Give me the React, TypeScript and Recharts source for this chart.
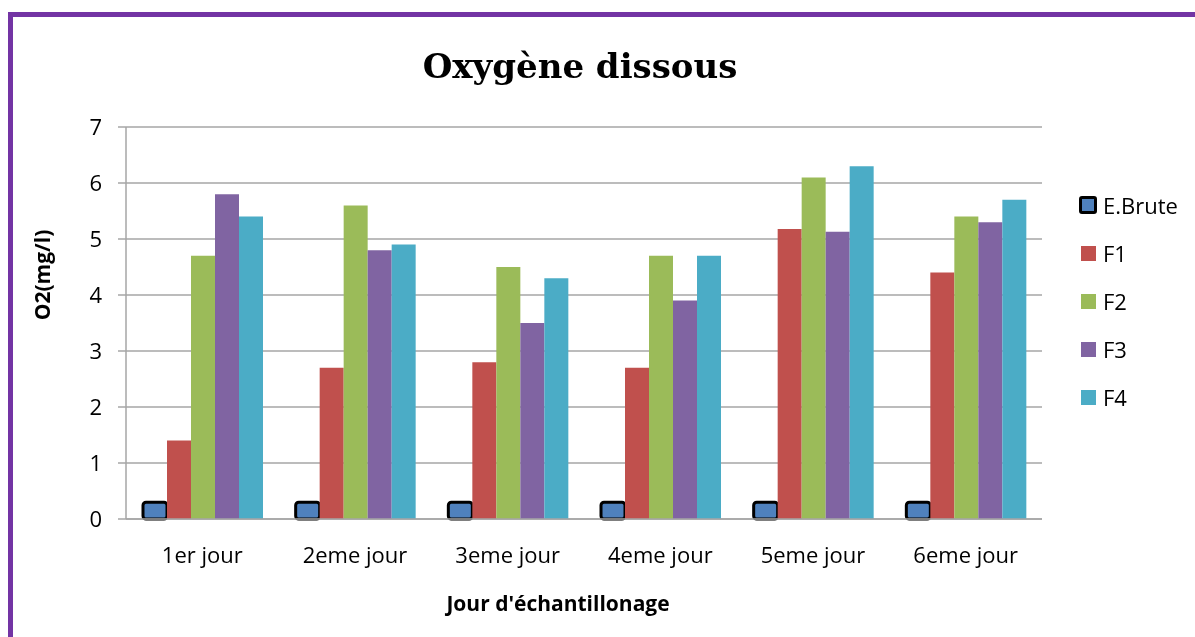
import { BarChart, Bar, XAxis, YAxis, CartesianGrid, Legend, Label } from "recharts";

// jours d'échantillonnage
const JOURS = ["1er jour", "2eme jour", "3eme jour", "4eme jour", "5eme jour", "6eme jour"];

// O2 dissous (mg/l)
const E_BRUTE = [0.3, 0.3, 0.3, 0.3, 0.3, 0.3];
const F1 = [1.4, 2.7, 2.8, 2.7, 5.18, 4.4];
const F2 = [4.7, 5.6, 4.5, 4.7, 6.1, 5.4];
const F3 = [5.8, 4.8, 3.5, 3.9, 5.13, 5.3];
const F4 = [5.4, 4.9, 4.3, 4.7, 6.3, 5.7];

const Y_TICKS = [0, 1, 2, 3, 4, 5, 6, 7];

const SERIES = [
  { key: "brute", name: "E.Brute", values: E_BRUTE, fill: "#4F81BD", outlined: true },
  { key: "f1", name: "F1", values: F1, fill: "#C0504D", outlined: false },
  { key: "f2", name: "F2", values: F2, fill: "#9BBB59", outlined: false },
  { key: "f3", name: "F3", values: F3, fill: "#8064A2", outlined: false },
  { key: "f4", name: "F4", values: F4, fill: "#4BACC6", outlined: false },
];

const data = JOURS.map((jour, i) => {
  const row: Record<string, string | number> = { jour };
  SERIES.forEach((s) => {
    row[s.key] = s.values[i];
  });
  return row;
});

const FONT = "'Open Sans', sans-serif";
const GRID = "#A6A6A6";

const renderLegend = () => (
  <div style={{ fontFamily: FONT, fontSize: 22, color: "#000" }}>
    {SERIES.map((s) => (
      <div key={s.key} style={{ display: "flex", alignItems: "center", height: 48 }}>
        <span
          style={{
            display: "inline-block",
            boxSizing: "border-box",
            width: s.outlined ? 18 : 15,
            height: s.outlined ? 18 : 15,
            marginLeft: s.outlined ? 0 : 2,
            marginRight: s.outlined ? 6 : 7,
            background: s.fill,
            border: s.outlined ? "3px solid #000" : "none",
            borderRadius: s.outlined ? 3 : 0,
          }}
        />
        <span>{s.name}</span>
      </div>
    ))}
  </div>
);

export default function App() {
  return (
    <>
      <div
        style={{
          position: "fixed",
          left: 8,
          top: 12,
          width: 1300,
          height: 700,
          border: "5px solid #7334A4",
        }}
      />
      <div style={{ position: "fixed", left: 0, top: 0, width: 1195, height: 637 }}>
        <div
          style={{
            position: "absolute",
            left: 0,
            width: 1160,
            top: 44,
            textAlign: "center",
            fontFamily: "'DejaVu Serif', serif",
            fontWeight: "bold",
            fontSize: 34,
            lineHeight: "44px",
            color: "#000",
          }}
        >
          Oxygène dissous
        </div>
        <BarChart
          width={1195}
          height={637}
          data={data}
          margin={{ top: 127, right: 153, bottom: 58, left: 0 }}
          barGap={0}
          barCategoryGap={17}
        >
          <CartesianGrid horizontal vertical={false} stroke={GRID} strokeWidth={1.5} />
          <XAxis
            dataKey="jour"
            height={60}
            axisLine={{ stroke: GRID, strokeWidth: 1.5 }}
            tickLine={false}
            tickSize={0}
            tickMargin={28}
            tick={{ fill: "#000", fontSize: 22, fontFamily: FONT }}
          >
            <Label
              content={() => (
                <text
                  x={558}
                  y={611}
                  textAnchor="middle"
                  fontFamily={FONT}
                  fontWeight="bold"
                  fontSize={21}
                  fill="#000"
                >
                  Jour d'échantillonage
                </text>
              )}
            />
          </XAxis>
          <YAxis
            width={126}
            domain={[0, 7]}
            ticks={Y_TICKS}
            interval={0}
            axisLine={{ stroke: GRID, strokeWidth: 1.5 }}
            tickLine={{ stroke: GRID, strokeWidth: 1.5 }}
            tickSize={8}
            tickMargin={16}
            tick={{ fill: "#000", fontSize: 22, fontFamily: FONT }}
          >
            <Label
              content={() => (
                <text
                  x={42}
                  y={275}
                  transform="rotate(-90 42 275)"
                  textAnchor="middle"
                  dominantBaseline="central"
                  fontFamily={FONT}
                  fontWeight="bold"
                  fontSize={21}
                  fill="#000"
                >
                  O2(mg/l)
                </text>
              )}
            />
          </YAxis>
          <Legend
            layout="vertical"
            align="center"
            verticalAlign="middle"
            content={renderLegend}
            wrapperStyle={{ left: 1079, top: 181, width: 116 }}
          />
          {SERIES.map((s) => (
            <Bar
              key={s.key}
              dataKey={s.key}
              name={s.name}
              fill={s.fill}
              stroke={s.outlined ? "#000" : "none"}
              strokeWidth={s.outlined ? 3 : 0}
              radius={s.outlined ? 3 : 0}
              isAnimationActive={false}
            />
          ))}
        </BarChart>
      </div>
    </>
  );
}
